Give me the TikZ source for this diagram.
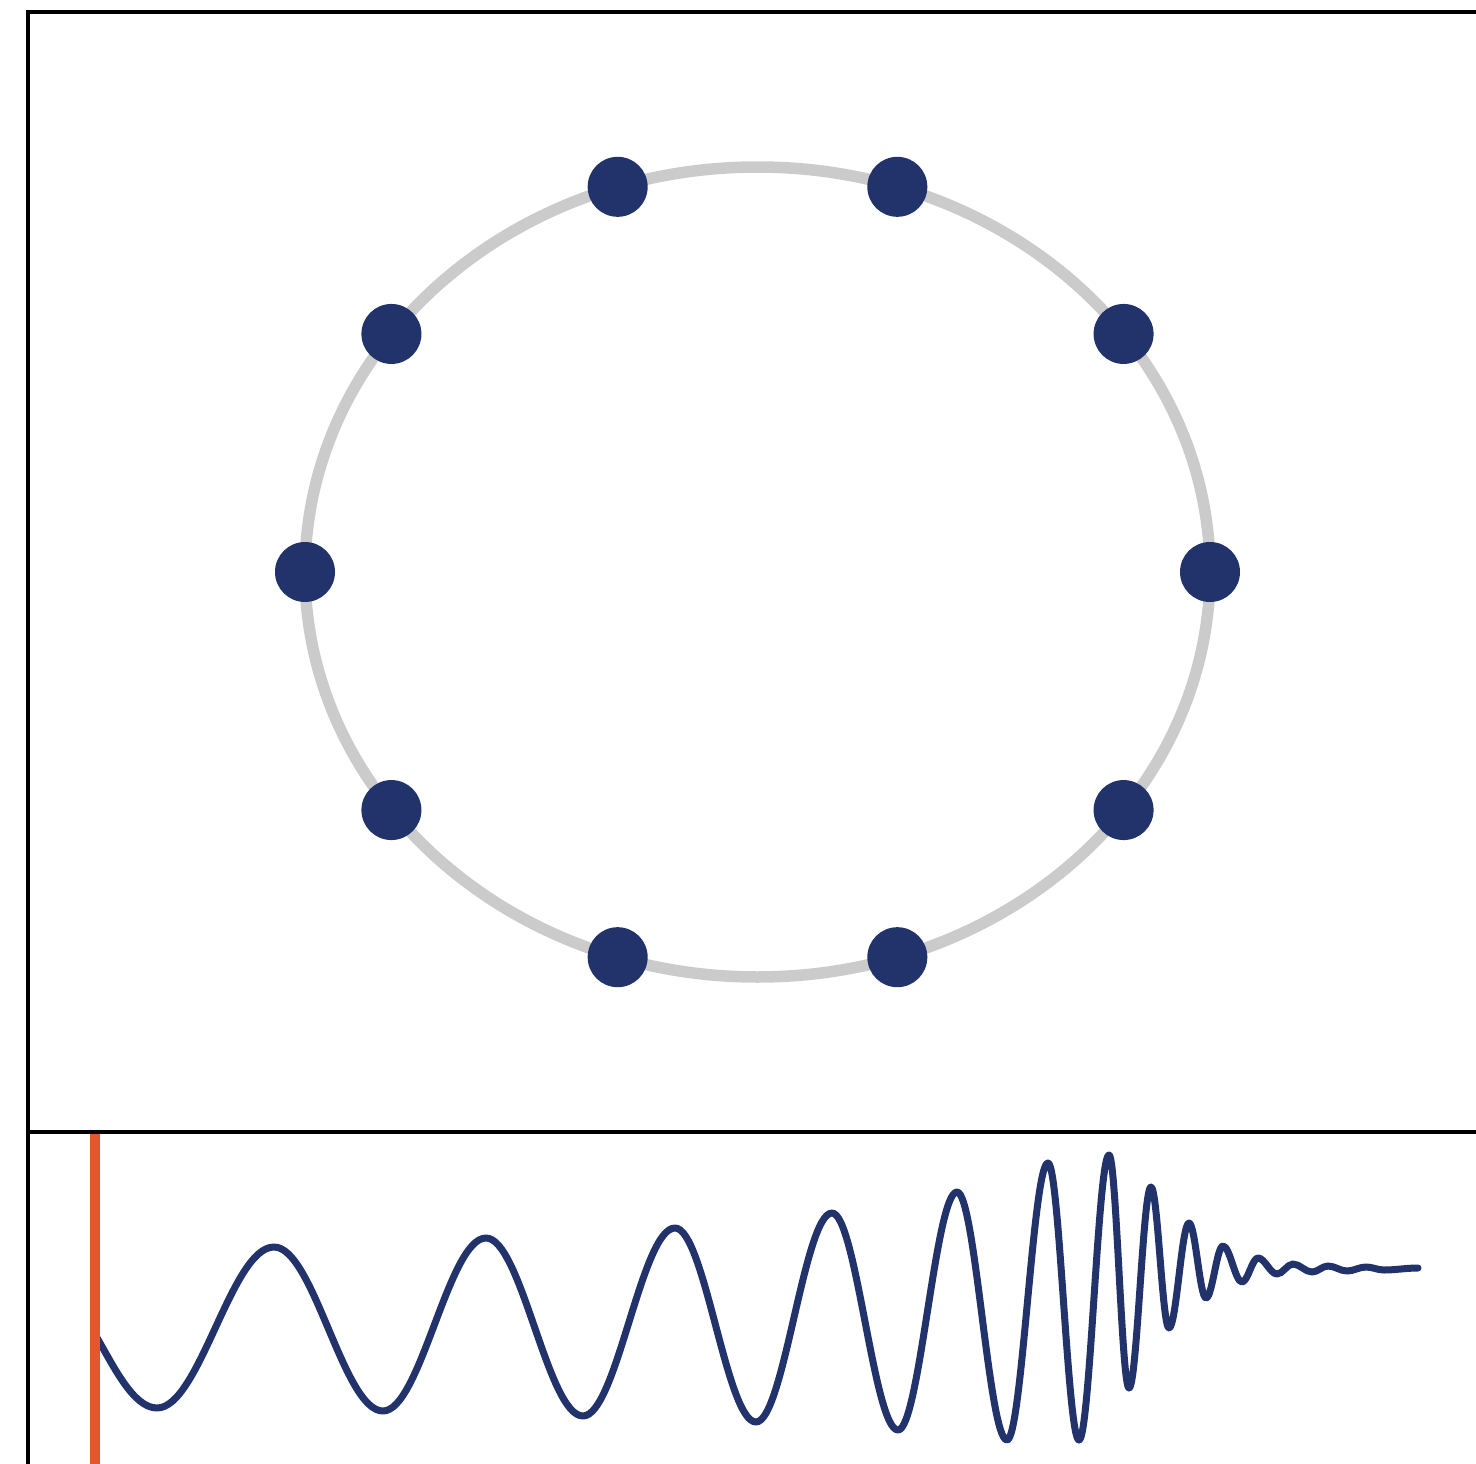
\documentclass[tikz,border=0pt]{standalone}
\definecolor{dotblue}{HTML}{22336B}
\definecolor{ringgray}{HTML}{CBCBCB}
\definecolor{markred}{HTML}{E0582E}
\tikzset{
  framel/.style={line width=4pt,black},
  ring/.style={line width=11.5pt,ringgray},
  dotnode/.style={circle,fill=dotblue,inner sep=0pt,minimum size=60pt},
  wave/.style={line width=7pt,dotblue,line join=round,line cap=round},
  marker/.style={line width=10pt,markred}
}
\begin{document}
\begin{tikzpicture}[x=1pt,y=-1pt]
\useasboundingbox[fill=white] (0,0) rectangle (1476,1464);
% frame
\coordinate (tl) at (28,12);
\coordinate (tr) at (1476,12);
\coordinate (bl) at (28,1464);
\coordinate (ml) at (28,1132);
\coordinate (mr) at (1476,1132);
\draw[framel] (bl) -- (tl) -- (tr);
\draw[framel] (ml) -- (mr);
% ring with dots
\node[draw=none,inner sep=0pt] (c) at (757.5,572) {};
\draw[ring] (c) ellipse[x radius=452.5,y radius=405];
\foreach \i in {0,...,9}{
  \node[dotnode] (d\i) at ({757.5+452.5*cos(36*\i)},{572-405*sin(36*\i)}) {};
}
% chirp waveform
\draw[wave] (96,1336) .. controls (113,1365) and (133,1408) .. (157,1408)
  .. controls +(42.6,0) and +(-42.6,0) .. (274,1247)
  .. controls +(39.7,0) and +(-39.7,0) .. (383,1411)
  .. controls +(37.5,0) and +(-37.5,0) .. (486,1238)
  .. controls +(35.3,0) and +(-35.3,0) .. (583,1416)
  .. controls +(33.5,0) and +(-33.5,0) .. (675,1228)
  .. controls +(29.5,0) and +(-29.5,0) .. (756,1422)
  .. controls +(27.7,0) and +(-27.7,0) .. (832,1213)
  .. controls +(24.0,0) and +(-24.0,0) .. (898,1430)
  .. controls +(21.5,0) and +(-21.5,0) .. (957,1192)
  .. controls +(18.2,0) and +(-18.2,0) .. (1007,1440)
  .. controls +(14.9,0) and +(-14.9,0) .. (1048,1163)
  .. controls +(11.3,0) and +(-11.3,0) .. (1079,1440)
  .. controls +(10.9,0) and +(-10.9,0) .. (1109,1155)
  .. controls +(7.3,0) and +(-7.3,0) .. (1129,1388)
  .. controls +(8.0,0) and +(-8.0,0) .. (1151,1187)
  .. controls +(6.6,0) and +(-6.6,0) .. (1169,1328)
  .. controls +(7.3,0) and +(-7.3,0) .. (1189,1223)
  .. controls +(6.2,0) and +(-6.2,0) .. (1206,1298)
  .. controls +(6.2,0) and +(-6.2,0) .. (1223,1246)
  .. controls +(6.9,0) and +(-6.9,0) .. (1242,1282)
  .. controls +(5.8,0) and +(-5.8,0) .. (1258,1258)
  .. controls +(6.9,0) and +(-6.9,0) .. (1277,1274)
  .. controls +(5.8,0) and +(-5.8,0) .. (1293,1264)
  .. controls +(6.9,0) and +(-6.9,0) .. (1312,1272)
  .. controls +(5.8,0) and +(-5.8,0) .. (1328,1266)
  .. controls +(6.9,0) and +(-6.9,0) .. (1347,1271)
  .. controls +(6.9,0) and +(-6.9,0) .. (1366,1267)
  .. controls +(6.6,0) and +(-6.6,0) .. (1384,1270)
  .. controls +(12,0) and +(-12,0) .. (1418,1268);
% red marker
\coordinate (rt) at (95,1134);
\coordinate (rb) at (95,1464);
\draw[marker] (rt) -- (rb);
\end{tikzpicture}
\end{document}
